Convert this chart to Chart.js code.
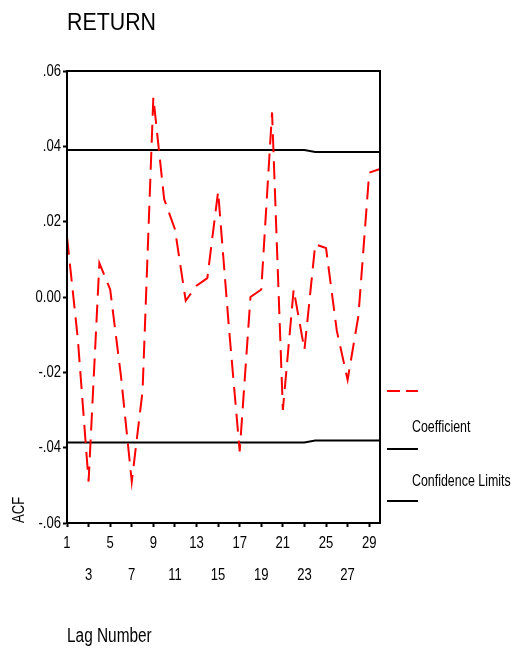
<!DOCTYPE html>
<html>
<head>
<meta charset="utf-8">
<script src="https://cdn.jsdelivr.net/npm/chart.js@4"></script>
<style>
  html, body { margin: 0; padding: 0; background: #fff; }
  #wrap { width: 511px; height: 648px; }
</style>
</head>
<body>
<div id="wrap"><canvas id="c" width="511" height="648"></canvas></div>
<script>
// ---- Data ----
const chartTitle = 'RETURN';
const lags = [1,2,3,4,5,6,7,8,9,10,11,12,13,14,15,16,17,18,19,20,21,22,23,24,25,26,27,28,29,30];
const acf = [0.016, -0.011, -0.049, 0.009, 0.002, -0.021, -0.049, -0.025, 0.053, 0.026,
             0.018, -0.001, 0.003, 0.005, 0.028, -0.008, -0.041, 0.000, 0.002, 0.049,
             -0.030, 0.002, -0.014, 0.014, 0.013, -0.009, -0.022, -0.005, 0.033, 0.034];
const upperLimit = [0.039,0.039,0.039,0.039,0.039,0.039,0.039,0.039,0.039,0.039,
                    0.039,0.039,0.039,0.039,0.039,0.039,0.039,0.039,0.039,0.039,
                    0.039,0.039,0.039,0.0385,0.0385,0.0385,0.0385,0.0385,0.0385,0.0385];
const lowerLimit = [-0.0386,-0.0386,-0.0386,-0.0386,-0.0386,-0.0386,-0.0386,-0.0386,-0.0386,-0.0386,
                    -0.0386,-0.0386,-0.0386,-0.0386,-0.0386,-0.0386,-0.0386,-0.0386,-0.0386,-0.0386,
                    -0.0386,-0.0386,-0.0386,-0.0381,-0.0381,-0.0381,-0.0381,-0.0381,-0.0381,-0.0381];
const xTickValues = [1,3,5,7,9,11,13,15,17,19,21,23,25,27,29];
const xTickLabels = ['1','3','5','7','9','11','13','15','17','19','21','23','25','27','29'];
const yTickValues = [-0.06,-0.04,-0.02,0,0.02,0.04,0.06];
const yTickLabels = ['-.06','-.04','-.02','0.00','.02','.04','.06'];
const xAxisTitle = 'Lag Number';
const yAxisTitle = 'ACF';
const legendLabels = ['Coefficient', 'Confidence Limits'];

// ---- Style ----
const FONT = '"Liberation Sans", Arial, sans-serif';
Chart.defaults.font.family = FONT;
Chart.defaults.color = '#000';

// condensed text rendering (the original uses a narrow Arial-like face)
const canvas = document.getElementById('c');
const ctx2d = canvas.getContext('2d');
let textSX = 0.77;
const origFill = ctx2d.fillText;
ctx2d.fillText = function (t, x, y, mw) {
  this.save();
  this.translate(x, y);
  this.scale(textSX, 1);
  if (mw === undefined || mw === null) origFill.call(this, t, 0, 0);
  else origFill.call(this, t, 0, 0, mw / textSX);
  this.restore();
};

const toPts = (arr) => lags.map((l, i) => ({ x: l, y: arr[i] }));

const decorPlugin = {
  id: 'decor',
  afterDatasetsDraw(chart) {
    const { ctx, chartArea: a } = chart;
    ctx.save();
    ctx.strokeStyle = '#000';
    ctx.lineWidth = 2;
    ctx.setLineDash([]);
    ctx.strokeRect(a.left, a.top, a.right - a.left, a.bottom - a.top);
    ctx.restore();
  },
  afterDraw(chart) {
    const { ctx } = chart;
    const keep = textSX;
    ctx.save();
    // title
    ctx.fillStyle = '#000';
    ctx.font = '24px ' + FONT;
    ctx.textAlign = 'left';
    ctx.textBaseline = 'alphabetic';
    textSX = 0.89;
    ctx.fillText(chartTitle, 67, 30);
    // legend
    const lx0 = 387, lx1 = 418;
    ctx.lineWidth = 2;
    ctx.strokeStyle = '#ff0000';
    ctx.setLineDash([13, 6]);
    ctx.beginPath(); ctx.moveTo(lx0, 391); ctx.lineTo(lx1, 391); ctx.stroke();
    ctx.setLineDash([]);
    ctx.strokeStyle = '#000';
    ctx.beginPath(); ctx.moveTo(lx0, 449); ctx.lineTo(lx1, 449); ctx.stroke();
    ctx.beginPath(); ctx.moveTo(lx0, 501); ctx.lineTo(lx1, 501); ctx.stroke();
    ctx.font = '17px ' + FONT;
    ctx.textBaseline = 'middle';
    textSX = 0.73;
    ctx.fillText(legendLabels[0], 412, 427);
    ctx.fillText(legendLabels[1], 412, 481);
    ctx.restore();
    textSX = keep;
  }
};

new Chart(canvas, {
  type: 'line',
  data: {
    datasets: [
      { label: legendLabels[0], data: toPts(acf), borderColor: '#ff0000', borderWidth: 2,
        borderDash: [18, 9], pointRadius: 0, tension: 0, fill: false, order: 0 },
      { label: 'Upper', data: toPts(upperLimit), borderColor: '#000', borderWidth: 2,
        pointRadius: 0, tension: 0, fill: false, order: 1 },
      { label: 'Lower', data: toPts(lowerLimit), borderColor: '#000', borderWidth: 2,
        pointRadius: 0, tension: 0, fill: false, order: 1 }
    ]
  },
  options: {
    responsive: false,
    animation: false,
    layout: { padding: { top: 71, right: 131, left: 0, bottom: 0 } },
    plugins: { legend: { display: false }, tooltip: { enabled: false }, title: { display: false } },
    scales: {
      x: {
        type: 'linear', min: 1, max: 30,
        afterBuildTicks: (axis) => { axis.ticks = xTickValues.map(v => ({ value: v })); },
        afterFit: (scale) => { scale.height = 125; },
        ticks: {
          autoSkip: false, maxRotation: 0, minRotation: 0, padding: 0,
          font: { size: 17, lineHeight: 1.88 },
          callback: (v, i) => (i % 2 === 0 ? [xTickLabels[i]] : ['', xTickLabels[i]])
        },
        grid: { drawOnChartArea: false, drawTicks: true, tickLength: 4, tickWidth: 2, tickColor: '#000' },
        border: { display: true, color: '#000', width: 2 },
        title: { display: true, text: xAxisTitle, align: 'start', font: { size: 20, lineHeight: 1.2 },
                 padding: { top: 0, bottom: 0 } }
      },
      y: {
        type: 'linear', min: -0.06, max: 0.06,
        afterBuildTicks: (axis) => { axis.ticks = yTickValues.map(v => ({ value: v })); },
        afterFit: (scale) => { scale.width = 67; },
        ticks: { padding: 2, font: { size: 17 }, callback: (v, i) => yTickLabels[i] },
        grid: { drawOnChartArea: false, drawTicks: true, tickLength: 4, tickWidth: 2, tickColor: '#000' },
        border: { display: true, color: '#000', width: 2 },
        title: { display: true, text: yAxisTitle, align: 'start', font: { size: 17, lineHeight: 1.2 },
                 padding: { top: 9, bottom: 0 } }
      }
    }
  },
  plugins: [decorPlugin]
});
</script>
</body>
</html>
